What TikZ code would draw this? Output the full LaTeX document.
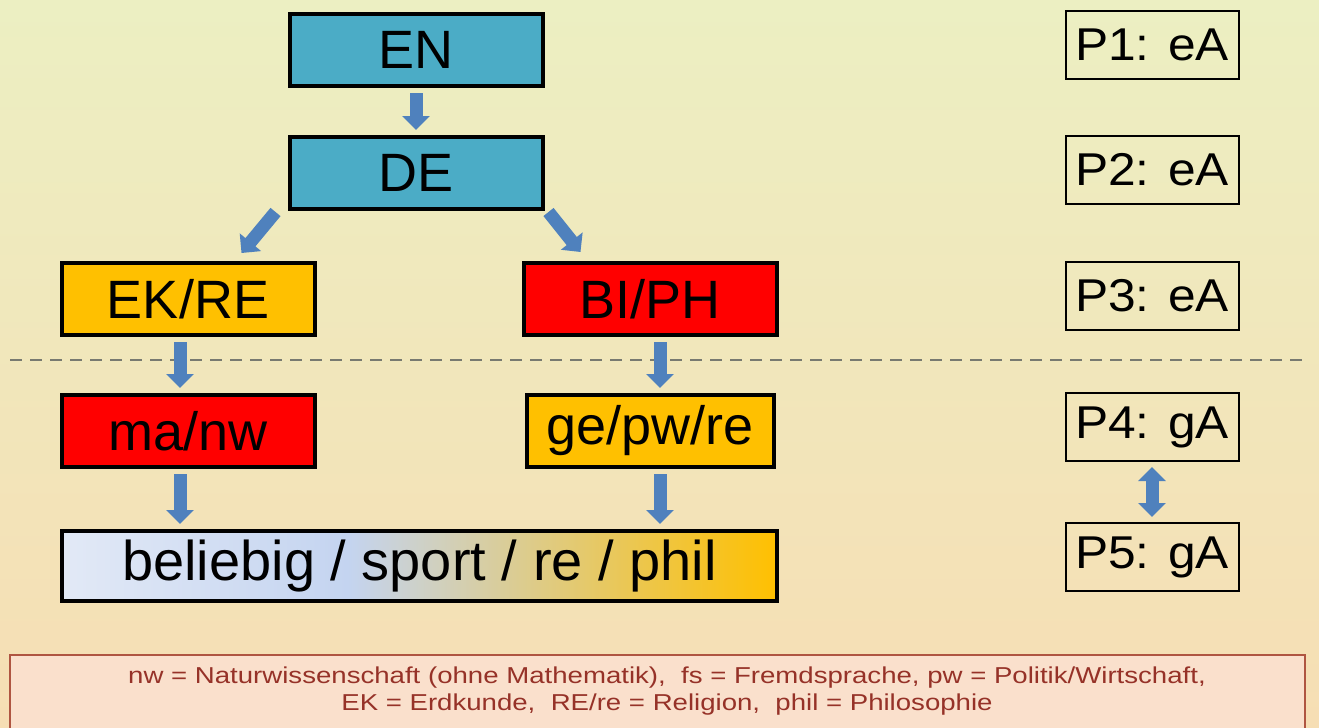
\documentclass[tikz,border=0pt]{standalone}
\usepackage{fontspec}
\setmainfont{Liberation Sans}
\newfontfamily\mywidefont[FakeStretch=1.08]{Liberation Sans}
\newfontfamily\mynotefont[FakeStretch=1.2]{Liberation Sans}
\usepackage{xcolor}
\definecolor{myteal}{RGB}{75,172,198}
\definecolor{mygold}{RGB}{255,192,0}
\definecolor{myred}{RGB}{255,0,0}
\definecolor{myarrow}{RGB}{79,129,189}
\definecolor{mypaleblue}{RGB}{226,233,246}
\definecolor{mylightblue}{RGB}{196,212,240}
\definecolor{mybgtop}{RGB}{236,239,194}
\definecolor{mybgbot}{RGB}{246,222,180}
\definecolor{mynotefill}{RGB}{250,224,204}
\definecolor{mynoteline}{RGB}{175,85,65}
\definecolor{mynotetext}{RGB}{150,50,40}
\definecolor{mydashgray}{RGB}{120,122,112}
\usetikzlibrary{
  arrows.meta,
  positioning,
  shadings,
  calc}

\pgfdeclarehorizontalshading{myblend}{100bp}{%
  color(0bp)=(mypaleblue); color(25bp)=(mypaleblue);
  color(45bp)=(mylightblue); color(75bp)=(mygold); color(100bp)=(mygold)}

\begin{document}
\begin{tikzpicture}[
  x=0.5pt, y=-0.5pt,
  mybox/.style={
    draw,
    line width=2pt,
    minimum width=126.5pt,
    minimum height=36pt,
    inner sep=0pt,
    font=\fontsize{27}{30}\selectfont
    },
  myplabel/.style={
    draw,
    line width=1pt,
    minimum width=86.5pt,
    minimum height=34pt,
    inner sep=0pt,
    font=\mywidefont\fontsize{23}{26}\selectfont
    },
  myarrow/.style={
    draw=myarrow,
    line width=6.5pt,
    -{Triangle[width=13.5pt,length=7pt]},
    shorten <=2.5pt,
    shorten >=2.5pt
    },
  mydblarrow/.style={
    myarrow,
    {Triangle[width=13.5pt,length=7pt]}-{Triangle[width=13.5pt,length=7pt]}
    }
]
\useasboundingbox (0,0) rectangle (1319,728);
\fill[top color=mybgtop, bottom color=mybgbot] (0,0) rectangle (1319,728);

% subject boxes
\node [mybox, fill=myteal] (en) at (416,50) {EN};
\node [mybox, fill=myteal] (de) at (416,173) {DE};
\node [mybox, fill=mygold] (ekre) at (188,299) {EK/RE};
\node [mybox, fill=myred] (biph) at (650,299) {BI/PH};
\node [mybox, fill=myred] (manw) at (188,431) {ma/nw};
\node [mybox, fill=mygold, minimum width=123.5pt] (gepwre) at (650,431) {ge/pw/re};
\node [mybox, shading=myblend, minimum width=357.5pt, minimum height=35pt,
  font=\fontsize{28}{30}\selectfont] (rest) at (419.5,566) {beliebig / sport / re / phil};

% exam labels
\node [myplabel] (p1) at (1152,45) {P1: eA};
\node [myplabel] (p2) at (1152,170) {P2: eA};
\node [myplabel] (p3) at (1152,296) {P3: eA};
\node [myplabel] (p4) at (1152,427) {P4: gA};
\node [myplabel] (p5) at (1152,557) {P5: gA};

% separator
\coordinate (sepl) at (10,360);
\coordinate (sepr) at (1305,360);
\draw [mydashgray, line width=1pt, dash pattern=on 6pt off 4pt] (sepl) -- (sepr);

% arrows
\draw [myarrow] (en.south) -- (de.north);
\draw [myarrow, shorten <=0pt, shorten >=0pt]
  ([xshift=-6pt,yshift=-0.5pt]de.south west) -- ([xshift=-37.5pt,yshift=4pt]ekre.north east);
\draw [myarrow, shorten <=0pt, shorten >=0pt]
  ([xshift=2pt,yshift=-0.5pt]de.south east) -- ([xshift=29.5pt,yshift=4.5pt]biph.north west);
\draw [myarrow] ([xshift=-4pt]ekre.south) -- ([xshift=-4pt]manw.north);
\draw [myarrow] ([xshift=5pt]biph.south) -- ([xshift=5pt]gepwre.north);
\draw [myarrow] ([xshift=-4pt]manw.south) -- ([xshift=-4pt]manw.south |- rest.north);
\draw [myarrow] ([xshift=5pt]gepwre.south) -- ([xshift=5pt]gepwre.south |- rest.north);
\draw [mydblarrow] (p4) -- (p5);

% note
\fill [mynotefill] (10,655) rectangle (1305,728);
\draw [mynoteline, line width=1pt] (10,728) -- (10,655) -- (1305,655) -- (1305,728);
\node [text=mynotetext, align=center, font=\mynotefont\fontsize{11.5}{13.5}\selectfont] (note) at (667,691)
  {nw = Naturwissenschaft (ohne Mathematik), \ fs = Fremdsprache, pw = Politik/Wirtschaft,\\
   EK = Erdkunde, \ RE/re = Religion, \ phil = Philosophie};
\end{tikzpicture}
\end{document}
